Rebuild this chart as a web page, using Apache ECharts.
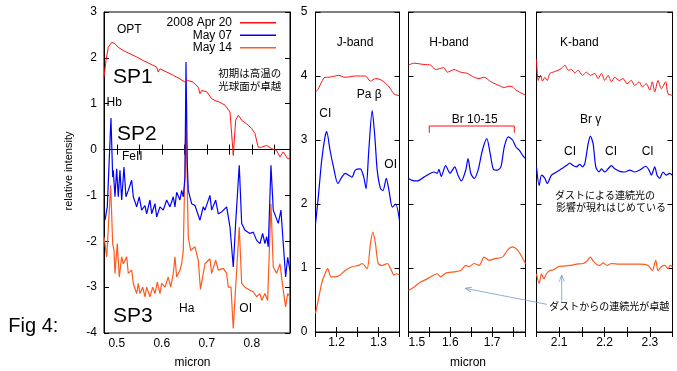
<!DOCTYPE html>
<html>
<head>
<meta charset="utf-8">
<script src="https://cdn.jsdelivr.net/npm/echarts@6/dist/echarts.min.js"></script>
<style>
  html, body { margin: 0; padding: 0; background: #fff; }
  #chart { width: 677px; height: 371px; }
</style>
</head>
<body>
<div id="chart"></div>
<script>
// series names
const names = ['2008 Apr 20', 'May 07', 'May 14'];

// OPT panel (micron, relative intensity)
const optApr20 = [[0.4716,1.58],[0.476,1.94],[0.4811,2.23],[0.4887,2.34],[0.496,2.31],[0.5033,2.23],[0.5144,2.16],[0.5293,2.09],[0.5442,2.02],[0.5589,1.94],[0.5738,1.87],[0.5887,1.80],[0.5922,1.69],[0.596,1.76],[0.6109,1.69],[0.6256,1.62],[0.6404,1.54],[0.6516,1.47],[0.6567,1.51],[0.67,1.47],[0.6811,1.36],[0.6849,1.22],[0.6887,1.29],[0.6998,1.26],[0.7109,1.11],[0.7182,1.07],[0.7293,1.03],[0.7404,0.97],[0.7516,0.82],[0.7553,0.35],[0.7589,-0.13],[0.7642,0.64],[0.7702,0.75],[0.7776,0.64],[0.7887,0.56],[0.7998,0.46],[0.8071,0.35],[0.8144,0.05],[0.8218,0.05],[0.8331,0.09],[0.8442,0.02],[0.8553,-0.02],[0.8627,-0.16],[0.87,-0.05],[0.8798,-0.2],[0.8849,-0.2]];
const optMay07 = [[0.4738,-1.54],[0.4789,-1.25],[0.4871,0.69],[0.4909,-0.6],[0.4922,-0.45],[0.496,-1.03],[0.4998,-0.42],[0.5033,-1.03],[0.5071,-0.45],[0.5109,-1.1],[0.516,-0.38],[0.5204,-1.03],[0.5256,-0.89],[0.5331,-0.67],[0.5367,-1.03],[0.5442,-1.25],[0.55,-1.03],[0.5553,-1.32],[0.5627,-1.22],[0.5664,-1.40],[0.5738,-1.1],[0.5776,-1.40],[0.5849,-1.18],[0.5887,-1.47],[0.596,-1.25],[0.6033,-1.32],[0.6109,-1.1],[0.6182,-1.25],[0.6256,-1.03],[0.6293,-1.25],[0.6331,-0.93],[0.6404,-1.1],[0.6442,-0.89],[0.6478,-1.03],[0.6516,-0.6],[0.6538,1.91],[0.6567,-0.3],[0.6589,-0.89],[0.6664,-1.18],[0.6738,-1.22],[0.6776,-1.25],[0.6849,-1.54],[0.6922,-1.25],[0.696,-1.32],[0.7071,-1.0],[0.7109,-1.32],[0.7198,-1.1],[0.7256,-1.40],[0.7331,-1.36],[0.7442,-1.25],[0.7516,-1.69],[0.7589,-2.56],[0.7642,-1.61],[0.7722,-0.34],[0.7776,-1.61],[0.7849,-1.76],[0.796,-1.83],[0.8033,-1.8],[0.8109,-1.98],[0.8182,-2.05],[0.8242,-1.83],[0.8293,-2.05],[0.8331,-1.9],[0.8367,-2.12],[0.8427,-0.34],[0.8478,-1.32],[0.8516,-1.32],[0.8589,-1.61],[0.8649,-1.32],[0.87,-2.05],[0.8753,-2.78],[0.8798,-2.35],[0.8849,-2.64]];
const optMay14 = [[0.4716,-1.91],[0.4738,-2.05],[0.4776,-2.34],[0.4864,-0.78],[0.4909,-2.05],[0.4938,-2.2],[0.496,-2.70],[0.5011,-2.05],[0.5056,-2.78],[0.5109,-2.34],[0.5144,-2.49],[0.522,-2.34],[0.5256,-2.70],[0.5331,-2.63],[0.5367,-2.92],[0.5442,-3.14],[0.5478,-2.92],[0.5516,-3.14],[0.5576,-3.0],[0.5627,-3.21],[0.5664,-3.0],[0.5738,-3.21],[0.5798,-3.0],[0.5849,-3.14],[0.59,-2.89],[0.596,-3.14],[0.5998,-2.92],[0.6071,-3.0],[0.6144,-2.78],[0.6198,-3.0],[0.6256,-2.70],[0.6293,-2.34],[0.6331,-2.78],[0.6404,-2.63],[0.6442,-2.49],[0.6478,-2.2],[0.6538,0.75],[0.6589,-1.91],[0.6642,-2.2],[0.6738,-2.12],[0.6811,-2.41],[0.686,-3.05],[0.696,-2.49],[0.7071,-2.38],[0.7109,-2.70],[0.7198,-2.41],[0.7256,-2.63],[0.7367,-2.59],[0.7442,-2.70],[0.7478,-3.0],[0.7538,-3.0],[0.7589,-3.9],[0.7642,-3.0],[0.7722,-1.69],[0.7776,-2.92],[0.7849,-3.0],[0.796,-3.07],[0.8033,-3.1],[0.8109,-3.21],[0.8182,-3.14],[0.822,-3.29],[0.8293,-3.14],[0.8353,-3.29],[0.8427,-1.18],[0.8478,-2.56],[0.8553,-2.70],[0.8627,-2.49],[0.87,-3.07],[0.8753,-3.43],[0.8798,-3.14],[0.8849,-3.21]];

// J band
const jApr20 = [[1.15,3.75],[1.1567,3.80],[1.1647,3.91],[1.1726,3.98],[1.1791,3.98],[1.1966,4.0],[1.2048,4.01],[1.2207,3.98],[1.2447,4.0],[1.2688,4.0],[1.2808,3.92],[1.2928,3.96],[1.3089,3.93],[1.325,3.83],[1.337,3.72],[1.35,3.69]];
const jMay07 = [[1.15,1.69],[1.1567,2.11],[1.1647,2.68],[1.1726,3.05],[1.1767,3.13],[1.1846,2.84],[1.1928,2.58],[1.2031,2.32],[1.2127,2.42],[1.2207,2.48],[1.2288,2.45],[1.2368,2.42],[1.2447,2.53],[1.2567,2.55],[1.2649,2.42],[1.2704,2.24],[1.2769,2.84],[1.2849,3.46],[1.2913,3.05],[1.2969,2.53],[1.3048,2.24],[1.3106,2.21],[1.3185,2.40],[1.325,2.21],[1.3329,1.95],[1.3409,2.0],[1.35,1.74]];
const jMay14 = [[1.15,0.29],[1.1567,0.50],[1.1647,0.76],[1.1726,0.91],[1.1791,0.99],[1.187,0.86],[1.1966,0.86],[1.2087,0.89],[1.2207,0.96],[1.2368,1.02],[1.2529,1.04],[1.2608,1.07],[1.2728,0.99],[1.2808,1.38],[1.2865,1.56],[1.2928,1.38],[1.2993,1.07],[1.3089,1.04],[1.3209,1.07],[1.3288,0.99],[1.337,0.89],[1.3425,0.91],[1.35,0.89]];

// H band
const hApr20 = [[1.5,4.17],[1.5127,4.20],[1.5368,4.18],[1.5529,4.17],[1.5649,4.10],[1.5769,4.12],[1.5849,4.13],[1.5928,4.06],[1.6089,4.10],[1.625,4.06],[1.6409,4.04],[1.657,3.98],[1.669,3.96],[1.681,3.98],[1.6971,3.91],[1.7171,3.85],[1.7291,3.82],[1.7411,3.84],[1.749,3.83],[1.7572,3.78],[1.7651,3.75],[1.78,3.70]];
const hMay07 = [[1.5,2.40],[1.5087,2.37],[1.5207,2.36],[1.5368,2.42],[1.5529,2.48],[1.5608,2.50],[1.5688,2.48],[1.5728,2.54],[1.5784,2.43],[1.5889,2.60],[1.5993,2.48],[1.6106,2.58],[1.6185,2.45],[1.6264,2.36],[1.637,2.53],[1.6425,2.71],[1.649,2.48],[1.657,2.40],[1.6666,2.53],[1.6769,2.84],[1.6875,3.02],[1.6954,2.79],[1.7034,2.54],[1.713,2.53],[1.7212,2.58],[1.7291,2.89],[1.7387,3.05],[1.749,3.0],[1.7572,2.89],[1.7651,2.84],[1.7731,2.76],[1.78,2.71]];
const hMay14 = [[1.5,0.65],[1.5127,0.70],[1.5288,0.78],[1.5447,0.83],[1.5608,0.89],[1.5688,0.91],[1.5769,0.86],[1.5889,0.92],[1.6089,0.94],[1.625,0.96],[1.637,1.04],[1.645,1.02],[1.657,1.07],[1.669,1.04],[1.681,1.17],[1.693,1.12],[1.7091,1.15],[1.725,1.17],[1.737,1.28],[1.749,1.33],[1.761,1.28],[1.7692,1.20],[1.78,1.07]];

// K band
const kApr20 = [[2.05,4.26],[2.0537,3.93],[2.0588,4.01],[2.0632,3.92],[2.0685,3.98],[2.0736,3.93],[2.0795,4.04],[2.0868,4.06],[2.0978,4.09],[2.1051,4.12],[2.1126,4.17],[2.1198,4.09],[2.1271,4.10],[2.1346,4.05],[2.1419,4.09],[2.1513,4.01],[2.1601,4.06],[2.1689,4.01],[2.1786,4.04],[2.1859,3.96],[2.1932,4.04],[2.2007,3.93],[2.2079,4.01],[2.2152,3.91],[2.2227,3.98],[2.2322,3.93],[2.241,3.96],[2.2498,3.88],[2.2593,3.93],[2.2667,3.85],[2.2762,3.91],[2.2835,3.83],[2.2923,3.88],[2.2998,3.78],[2.3055,3.91],[2.3108,3.75],[2.3181,3.93],[2.3253,3.80],[2.335,3.91],[2.3401,3.72],[2.35,3.70]];
const kMay07 = [[2.05,2.58],[2.0559,2.29],[2.061,2.45],[2.0685,2.40],[2.0736,2.32],[2.083,2.45],[2.0941,2.50],[2.1051,2.55],[2.1161,2.60],[2.1236,2.64],[2.1308,2.60],[2.1381,2.58],[2.1456,2.62],[2.1513,2.58],[2.1566,2.63],[2.1639,2.94],[2.1689,3.06],[2.1749,2.94],[2.1808,2.58],[2.1881,2.50],[2.1932,2.55],[2.2007,2.50],[2.2079,2.55],[2.2152,2.60],[2.2227,2.55],[2.2337,2.51],[2.2447,2.50],[2.2557,2.53],[2.2667,2.50],[2.2778,2.53],[2.291,2.59],[2.2982,2.53],[2.3033,2.45],[2.3108,2.58],[2.3159,2.45],[2.3218,2.40],[2.3291,2.50],[2.3363,2.45],[2.3438,2.48],[2.35,2.45]];
const kMay14 = [[2.05,0.91],[2.0559,0.76],[2.061,0.91],[2.0663,0.83],[2.072,0.91],[2.0795,0.96],[2.0868,0.97],[2.0978,1.02],[2.1088,1.03],[2.1236,1.04],[2.1381,1.06],[2.1529,1.07],[2.1617,1.11],[2.1689,1.17],[2.1749,1.11],[2.1822,1.06],[2.1896,1.04],[2.1969,1.08],[2.2057,1.04],[2.2152,1.07],[2.2337,1.06],[2.2557,1.06],[2.2778,1.06],[2.296,1.04],[2.3055,0.96],[2.313,1.12],[2.3181,0.96],[2.3253,1.02],[2.3328,1.04],[2.3401,0.99],[2.3452,1.04],[2.35,1.02]];

// panel x ranges
const xRanges = [[0.4716, 0.885], [1.15, 1.35], [1.5, 1.78], [2.05, 2.35]];

const colors = ['#ff1010', '#0000ff', '#ff5a1e'];
const widths = [1, 1.2, 1.2];
const FONT = '"Liberation Sans", Arial, sans-serif';
const JP = '"Noto Sans CJK JP", sans-serif';

const chart = echarts.init(document.getElementById('chart'));

const grids = [
  { left: 104, top: 12, width: 186, height: 321 },
  { left: 315.5, top: 12, width: 84, height: 320 },
  { left: 408.5, top: 12, width: 117, height: 320 },
  { left: 536.5, top: 12, width: 136, height: 320 }
];

const tick = { show: true, inside: true, length: 5, lineStyle: { color: '#000', width: 1 } };
const line = { show: true, lineStyle: { color: '#000', width: 1 } };

// label only on multiples of 0.1
const tenth = (v) => Math.abs(v * 10 - Math.round(v * 10)) < 1e-6 ? v.toFixed(1) : '';

const xAxis = [];
const yAxis = [];
grids.forEach((g, i) => {
  const r = xRanges[i];
  const base = { type: 'value', gridIndex: i, min: r[0], max: r[1], splitLine: { show: false }, axisLine: line, axisTick: tick };
  if (i === 0) base.splitNumber = 8; else base.interval = 0.05;
  xAxis.push(Object.assign({}, base, {
    position: 'bottom',
    axisLabel: { show: true, margin: 5, fontSize: 12, fontFamily: FONT, color: '#000', formatter: tenth,
      showMinLabel: i === 2, showMaxLabel: false, alignMinLabel: i === 2 ? 'left' : 'center' }
  }));
  xAxis.push(Object.assign({}, base, { position: 'top', axisLabel: { show: false } }));

  const ybase = i === 0
    ? { min: -4, max: 3, interval: 1 }
    : { min: 0, max: 5, interval: 1 };
  const yb = Object.assign({ type: 'value', gridIndex: i, splitLine: { show: false }, axisLine: line, axisTick: tick }, ybase);
  yAxis.push(Object.assign({}, yb, {
    position: 'left',
    axisLabel: { show: i <= 1, margin: i === 0 ? 7 : 8, fontSize: 12, fontFamily: FONT, color: '#000' }
  }));
  yAxis.push(Object.assign({}, yb, { position: 'right', axisLabel: { show: false } }));
});

const panels = [
  [optApr20, optMay07, optMay14],
  [jApr20, jMay07, jMay14],
  [hApr20, hMay07, hMay14],
  [kApr20, kMay07, kMay14]
];

const series = [];
panels.forEach((sets, i) => {
  sets.forEach((d, k) => {
    series.push({
      name: names[k],
      type: 'line',
      xAxisIndex: 2 * i,
      yAxisIndex: 2 * i,
      data: d,
      symbol: 'none',
      smooth: i === 0 ? false : 0.25,
      lineStyle: { color: colors[k], width: widths[k] },
      itemStyle: { color: colors[k] },
      z: 3 - k
    });
  });
});

function txt(text, x, y, size, opts) {
  opts = opts || {};
  return {
    type: 'text', x: x, y: y, rotation: opts.rot || 0, z: 10,
    style: {
      text: text, fill: opts.fill || '#000', fontSize: size,
      fontFamily: opts.font || FONT,
      align: opts.align || 'left', verticalAlign: 'middle'
    }
  };
}

// thin arrow with open head
function arrow(x1, y1, x2, y2, color) {
  const a = Math.atan2(y1 - y2, x1 - x2);
  const L = 7, s = 0.35;
  return [
    { type: 'line', z: 10, shape: { x1: x1, y1: y1, x2: x2, y2: y2 }, style: { stroke: color, lineWidth: 0.8 } },
    { type: 'polyline', z: 10, shape: { points: [
      [x2 + L * Math.cos(a + s), y2 + L * Math.sin(a + s)], [x2, y2],
      [x2 + L * Math.cos(a - s), y2 + L * Math.sin(a - s)]
    ] }, style: { stroke: color, lineWidth: 0.8, fill: null } }
  ];
}

const arrowColor = '#6f9bd3';

const graphics = [
  txt('OPT', 117, 30, 12),
  txt('SP1', 113, 77.5, 21),
  txt('Hb', 106.5, 103, 12),
  txt('SP2', 117, 134, 21),
  txt('FeII', 122, 157, 12),
  txt('SP3', 113, 316, 21),
  txt('Ha', 179, 308.3, 12),
  txt('OI', 239.3, 308.3, 12),
  txt('初期は高温の', 218.3, 72.7, 10.5, { font: JP }),
  txt('光球面が卓越', 218.3, 86, 10.5, { font: JP }),
  txt('Fig 4:', 8.3, 326.7, 20),
  txt('relative intensity', 69, 171, 11, { align: 'center', rot: Math.PI / 2 }),
  txt('micron', 192.5, 362.7, 12, { align: 'center' }),
  txt('micron', 468, 362.7, 12, { align: 'center' }),
  txt('J-band', 336.7, 42.7, 12),
  txt('Pa β', 356.7, 95, 12),
  txt('CI', 319.3, 114, 12),
  txt('OI', 384.3, 164.3, 12),
  txt('H-band', 429.3, 42.7, 12),
  txt('Br 10-15', 451.7, 120, 12),
  txt('K-band', 560, 42.7, 12),
  txt('Br γ', 580, 120, 12),
  txt('CI', 564, 151.7, 12),
  txt('CI', 605, 151.7, 12),
  txt('CI', 641.7, 151.7, 12),
  txt('ダストによる連続光の', 555, 195, 10, { font: JP }),
  txt('影響が現れはじめている', 556, 207.7, 10, { font: JP }),
  txt('ダストからの連続光が卓越', 549.3, 306, 10, { font: JP }),
  { type: 'polyline', z: 10, shape: { points: [[429.3, 132.7], [429.3, 126], [514.3, 126], [514.3, 132.7]] },
    style: { stroke: '#ff1010', lineWidth: 1, fill: null } }
].concat(arrow(546.7, 304.3, 465, 288.3, arrowColor), arrow(561.7, 301.7, 561.7, 275, arrowColor));

chart.setOption({
  animation: false,
  backgroundColor: '#fff',
  grid: grids.map(g => Object.assign({ show: true, borderColor: '#000', borderWidth: 1, backgroundColor: '#fff' }, g)),
  xAxis: xAxis,
  yAxis: yAxis,
  legend: {
    data: names, orient: 'vertical', right: 401, top: 16.5, align: 'right',
    icon: 'rect', itemWidth: 36, itemHeight: 1.5, itemGap: 0, padding: 0,
    textStyle: { fontSize: 12, lineHeight: 12.5, fontFamily: FONT, color: '#000', padding: [0, 3, 0, 0] }
  },
  series: series,
  graphic: { elements: graphics }
});
</script>
</body>
</html>
